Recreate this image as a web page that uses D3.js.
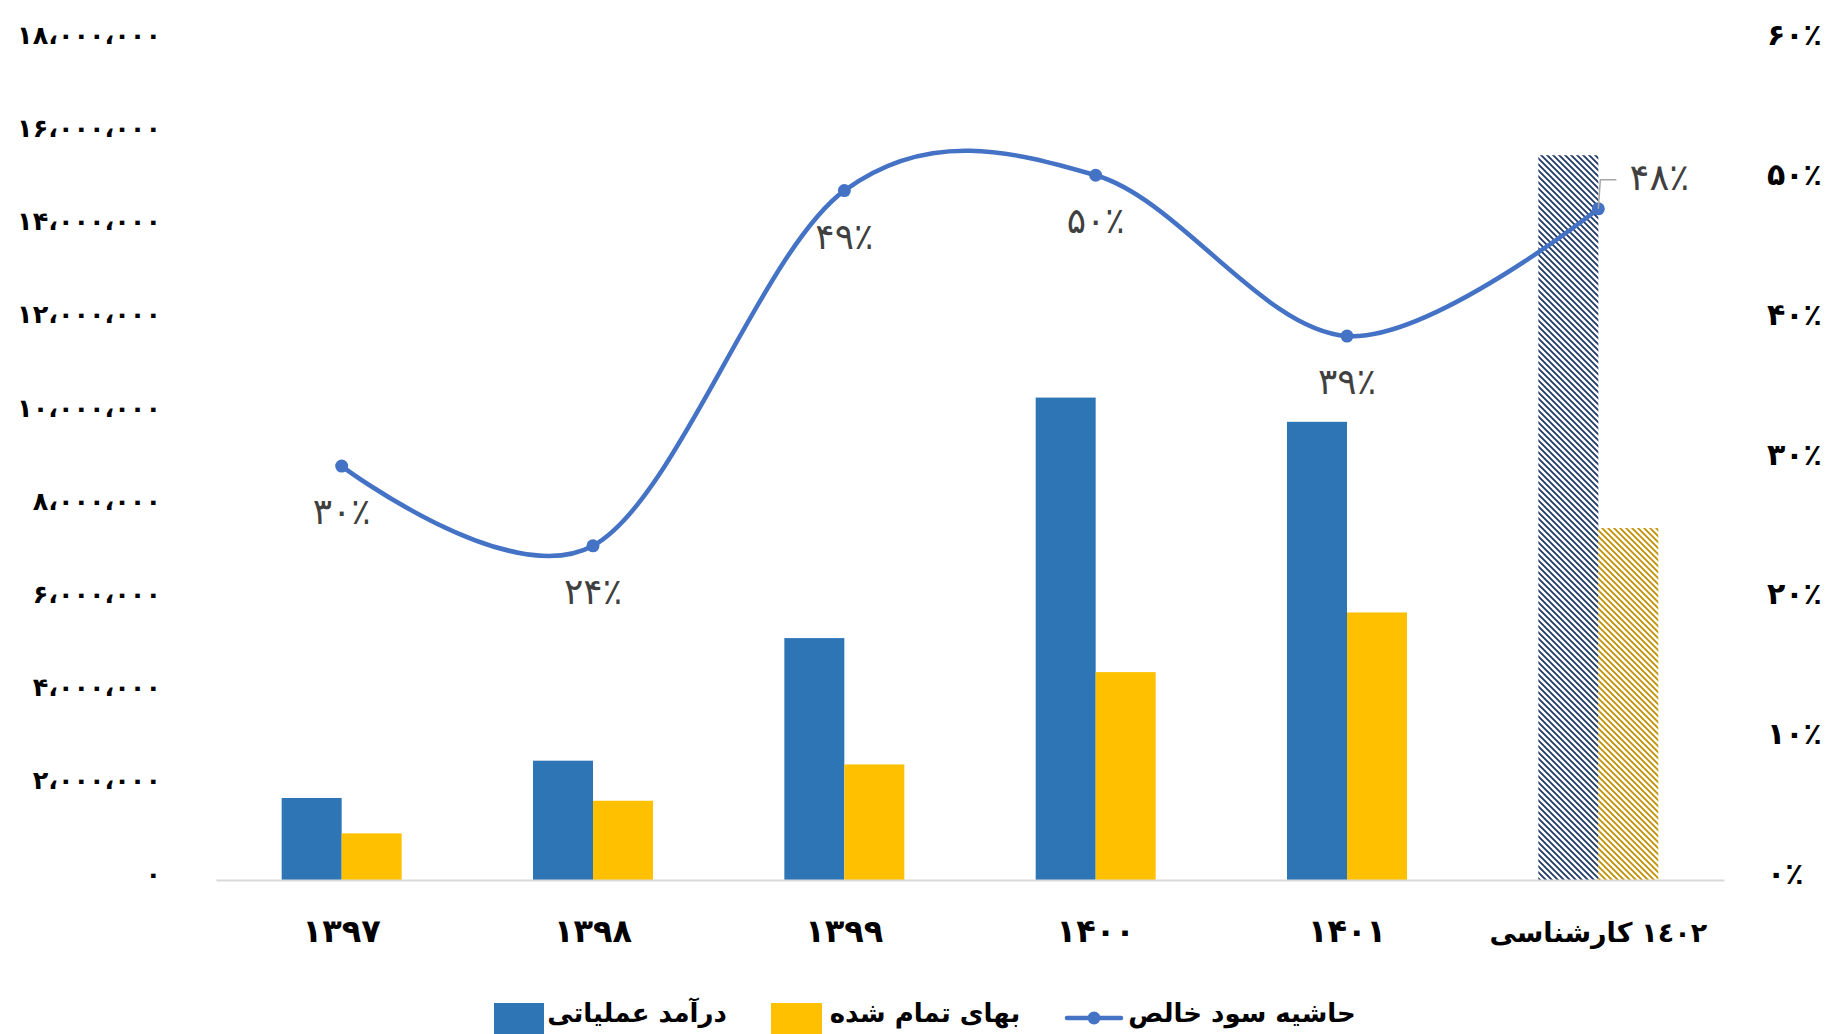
<!DOCTYPE html>
<html><head><meta charset="utf-8">
<script src="https://cdn.jsdelivr.net/npm/d3@7"></script>
<style>html,body{margin:0;padding:0;background:#fff;}svg{display:block;}</style>
</head><body>
<svg id="chart" width="1829" height="1034"></svg>
<script>
// ---- data ----
const categories = ["۱۳۹۷", "۱۳۹۸", "۱۳۹۹", "۱۴۰۰", "۱۴۰۱", "کارشناسی ١٤٠٢"];
const revenue = [1760000, 2560000, 5190000, 10350000, 9830000, 15550000];     // درآمد عملیاتی
const costOfSales = [1000000, 1700000, 2480000, 4460000, 5740000, 7550000];   // بهای تمام شده
const netMargin = [0.296, 0.239, 0.493, 0.504, 0.389, 0.48];                   // حاشیه سود خالص
const marginLabels = ["۳۰٪", "۲۴٪", "۴۹٪", "۵۰٪", "۳۹٪", "۴۸٪"];
const leftTicks = [0, 2000000, 4000000, 6000000, 8000000, 10000000, 12000000, 14000000, 16000000, 18000000];
const rightTicks = [0, 0.1, 0.2, 0.3, 0.4, 0.5, 0.6];
const forecast = [false, false, false, false, false, true];
const seriesNames = ["درآمد عملیاتی", "بهای تمام شده", "حاشیه سود خالص"];

const fa = s => String(s).replace(/\d/g, d => "۰۱۲۳۴۵۶۷۸۹"[d]);
const leftFmt = v => fa(d3.format(",")(v)).replace(/,/g, "،");
const rightFmt = v => fa(Math.round(v * 100)) + "٪";

const svg = d3.select("#chart");
const FONT = "'DejaVu Sans', sans-serif";
const plotL = 216, plotR = 1724, yBase = 880, yTop = 41;

const x = d3.scaleBand().domain(categories).range([plotL, plotR]).paddingInner(0).paddingOuter(0);
const y = d3.scaleLinear().domain([0, 18000000]).range([yBase, yTop]);
const y2 = d3.scaleLinear().domain([0, 0.6]).range([yBase, yTop]);
const barW = x.bandwidth() * 0.2387;

// patterns
const defs = svg.append("defs");
function hatch(id, color) {
  const p = defs.append("pattern").attr("id", id).attr("patternUnits", "userSpaceOnUse")
    .attr("width", 6).attr("height", 6);
  p.append("path").attr("d", "M-1,-1 L7,7 M-4,2 L2,8 M4,-2 L8,2")
    .attr("stroke", color).attr("stroke-width", 1.8).attr("fill", "none");
}
hatch("hatchBlue", "#1F3864");
hatch("hatchGold", "#BF9000");

// left axis
const leftAxis = d3.axisLeft(y).tickValues(leftTicks).tickFormat(leftFmt).tickSize(0).tickPadding(0);
const gL = svg.append("g").attr("transform", "translate(161,-6)").call(leftAxis);
gL.select(".domain").remove();
gL.selectAll("text").attr("font-family", FONT).attr("font-weight", "bold").attr("font-size", 25.5)
  .attr("fill", "#000").attr("direction", "ltr").attr("text-anchor", "end");

// right axis
const rightAxis = d3.axisRight(y2).tickValues(rightTicks).tickFormat(rightFmt).tickSize(0).tickPadding(0);
const gR = svg.append("g").attr("transform", "translate(1767,-6)").call(rightAxis);
gR.select(".domain").remove();
gR.selectAll("text").attr("font-family", FONT).attr("font-weight", "bold").attr("font-size", 30)
  .attr("fill", "#000").attr("direction", "ltr").attr("text-anchor", "start");

// bars
const bars = svg.append("g");
bars.selectAll("rect.rev").data(categories).join("rect").attr("class", "rev")
  .attr("x", d => x(d) + x.bandwidth() / 2 - barW)
  .attr("y", (d, i) => y(revenue[i]))
  .attr("width", barW)
  .attr("height", (d, i) => y(0) - y(revenue[i]))
  .attr("fill", (d, i) => forecast[i] ? "url(#hatchBlue)" : "#2E75B6");
bars.selectAll("rect.cost").data(categories).join("rect").attr("class", "cost")
  .attr("x", d => x(d) + x.bandwidth() / 2)
  .attr("y", (d, i) => y(costOfSales[i]))
  .attr("width", barW)
  .attr("height", (d, i) => y(0) - y(costOfSales[i]))
  .attr("fill", (d, i) => forecast[i] ? "url(#hatchGold)" : "#FFC000");

// x axis line + labels
const xAxis = d3.axisBottom(x).tickSize(0).tickPadding(0);
const gX = svg.append("g").attr("transform", `translate(0,${yBase})`).call(xAxis);
gX.select(".domain").attr("stroke", "#D9D9D9").attr("stroke-width", 2);
gX.selectAll(".tick text").each(function (d, i) {
  const t = d3.select(this).attr("font-family", FONT).attr("font-weight", "bold")
    .attr("fill", "#000").attr("dy", 0).attr("y", 62).attr("direction", "ltr");
  if (forecast[i]) {
    // split word + number so the word sits on the left, the year on the right
    const parts = d.split(" ");
    const g = d3.select(this.parentNode);
    t.remove();
    const word = g.append("text").text(parts[0]);
    const num = g.append("text").text(parts[1]);
    [word, num].forEach(s => s.attr("font-family", FONT).attr("font-weight", "bold").attr("font-size", 27)
      .attr("fill", "#000").attr("y", 62).attr("direction", "ltr").attr("text-anchor", "start"));
    const w1 = word.node().getComputedTextLength(), w2 = num.node().getComputedTextLength();
    const gap = 9, total = w1 + gap + w2;
    word.attr("x", -total / 2);
    num.attr("x", -total / 2 + w1 + gap);
  } else {
    t.attr("font-size", 32).attr("text-anchor", "middle");
  }
});

// line
const pts = categories.map((c, i) => [x(c) + x.bandwidth() / 2, y2(netMargin[i])]);
const line = d3.line().curve(d3.curveCardinal.tension(0));
svg.append("path").attr("d", line(pts)).attr("fill", "none").attr("stroke", "#4472C4")
  .attr("stroke-width", 4.5).attr("stroke-linecap", "round");
svg.append("g").selectAll("circle").data(pts).join("circle")
  .attr("cx", d => d[0]).attr("cy", d => d[1]).attr("r", 6.5).attr("fill", "#4472C4");

// data labels
const lab = svg.append("g");
pts.forEach((p, i) => {
  if (forecast[i]) {
    lab.append("path").attr("d", `M${p[0]},${p[1]} L${p[0] + 2},${p[1] - 29} L${p[0] + 18},${p[1] - 29}`)
      .attr("fill", "none").attr("stroke", "#A6A6A6").attr("stroke-width", 1.5);
    lab.append("text").attr("x", p[0] + 61).attr("y", p[1] - 19).attr("text-anchor", "middle")
      .attr("direction", "ltr").attr("font-family", FONT).attr("font-size", 37).attr("fill", "#404040")
      .text(marginLabels[i]);
  } else {
    lab.append("text").attr("x", p[0]).attr("y", p[1] + 58).attr("text-anchor", "middle")
      .attr("direction", "ltr").attr("font-family", FONT).attr("font-size", 36).attr("fill", "#404040")
      .text(marginLabels[i]);
  }
});

// legend
const lg = svg.append("g");
const ly = 1012;
lg.append("rect").attr("x", 494).attr("y", 1003).attr("width", 50).attr("height", 31).attr("fill", "#2E75B6");
lg.append("text").attr("x", 637).attr("y", ly + 10).text(seriesNames[0]);
lg.append("rect").attr("x", 771).attr("y", 1003).attr("width", 51).attr("height", 31).attr("fill", "#FFC000");
lg.append("text").attr("x", 925).attr("y", ly + 10).text(seriesNames[1]);
lg.append("line").attr("x1", 1067).attr("x2", 1121).attr("y1", 1018).attr("y2", 1018)
  .attr("stroke", "#4472C4").attr("stroke-width", 4.5).attr("stroke-linecap", "round");
lg.append("circle").attr("cx", 1094).attr("cy", 1018).attr("r", 6.5).attr("fill", "#4472C4");
lg.append("text").attr("x", 1242).attr("y", ly + 10).text(seriesNames[2]);
lg.selectAll("text").attr("font-family", FONT).attr("font-weight", "bold").attr("font-size", 26)
  .attr("fill", "#000").attr("text-anchor", "middle").attr("direction", "rtl");
</script>
</body></html>
